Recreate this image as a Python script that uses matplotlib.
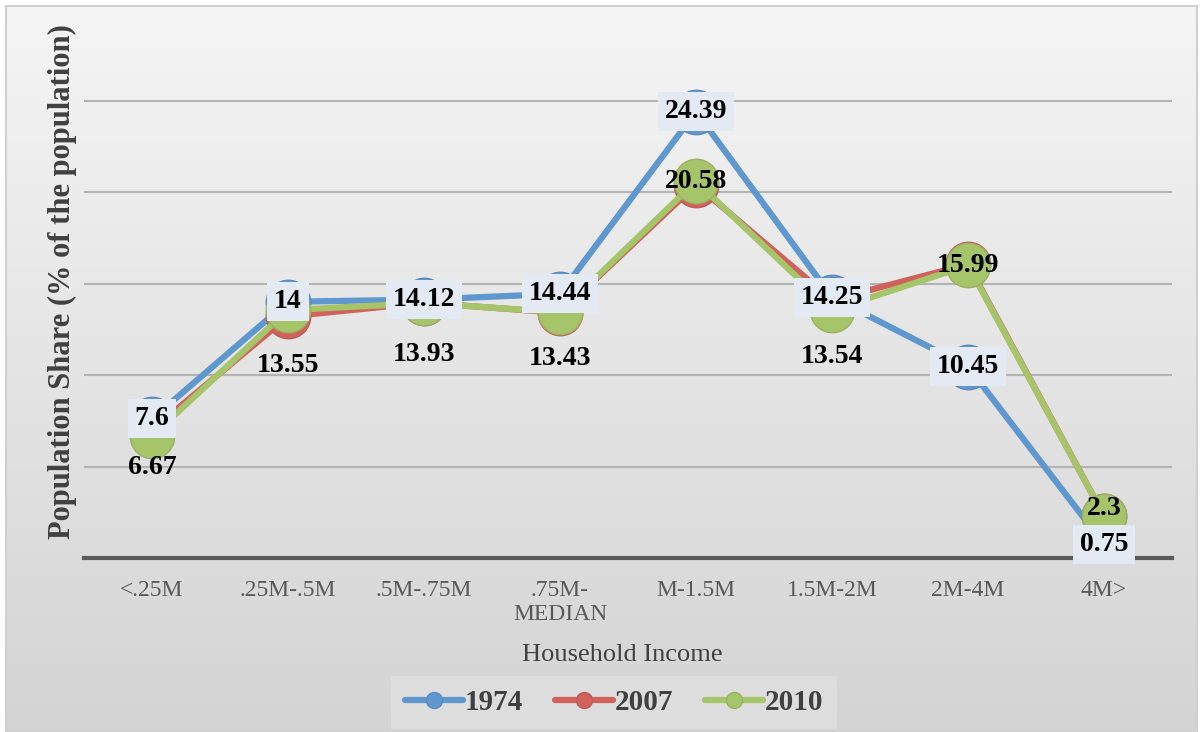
import numpy as np
import matplotlib
matplotlib.use("Agg")
import matplotlib.pyplot as plt

# --- Data ---
categories = ["<.25M", ".25M-.5M", ".5M-.75M", ".75M-\nMEDIAN", "M-1.5M", "1.5M-2M", "2M-4M", "4M>"]
share_1974 = [7.6, 14, 14.12, 14.44, 24.39, 14.25, 10.45, 0.75]
share_2007 = [7.0, 13.2, 13.95, 13.4, 20.4, 14.1, 16.05, 2.3]
share_2010 = [6.67, 13.55, 13.93, 13.43, 20.58, 13.54, 15.99, 2.3]

# --- Style ---
c_1974 = "#5f97cf"
c_2007 = "#d0625c"
c_2010 = "#a6c46a"
serif = "Liberation Serif"
label_dy_2010 = [-23, -40, -37, -33, 0, -33, 0, 5]  # label offsets in points

plt.rcParams["font.family"] = serif

fig = plt.figure(figsize=(12.02, 7.32), dpi=100)

# background gradient panel
bg = fig.add_axes([6 / 1202, 0, 1191 / 1202, 726 / 732], zorder=-5)
grad = np.linspace(0, 1, 256).reshape(-1, 1)
bg.imshow(grad, aspect="auto", cmap=matplotlib.colors.LinearSegmentedColormap.from_list(
    "g", ["#f5f5f5", "#d4d4d4"]), extent=[0, 1, 0, 1], origin="upper")
bg.set_xticks([])
bg.set_yticks([])
for s in bg.spines.values():
    s.set_color("#d0d0d0")
    s.set_linewidth(1.5)

ax = fig.add_axes([84 / 1202, 174 / 732, 1088 / 1202, 549 / 732])
ax.patch.set_alpha(0)
x = np.arange(len(categories))

ax.set_xlim(-0.5, len(categories) - 0.5)
ax.set_ylim(0, 30)
ax.set_yticks([5, 10, 15, 20, 25])
ax.set_yticklabels([])
ax.tick_params(axis="y", length=0)
ax.tick_params(axis="x", length=0, pad=16, labelsize=17, labelcolor="#595959")
ax.set_xticks(x)
ax.set_xticklabels(categories, linespacing=1.15)
ax.grid(axis="y", color="#b3b3b3", linewidth=1.5, zorder=0)
for side in ["top", "right", "left"]:
    ax.spines[side].set_visible(False)
ax.spines["bottom"].set_color("#5a5a5a")
ax.spines["bottom"].set_linewidth(3)

kw = dict(linewidth=4.5, marker="o", markersize=32, solid_capstyle="round")
ax.plot(x, share_1974, color=c_1974, markeredgecolor="#5a8ac0", label="1974", zorder=3, **kw)
ax.plot(x, share_2007, color=c_2007, markeredgecolor="#c05a55", label="2007", zorder=4, **kw)
ax.plot(x, share_2010, color=c_2010, markeredgecolor="#9cb064", label="2010", zorder=5, **kw)

for xi, v, dy in zip(x, share_2010, label_dy_2010):
    ax.annotate(f"{v:g}", (xi, v), xytext=(0, dy), textcoords="offset points",
                ha="center", va="center", fontsize=20, fontweight="bold",
                color="black", zorder=6)

for xi, v in zip(x, share_1974):
    ax.annotate(f"{v:g}", (xi, v), ha="center", va="center", fontsize=20,
                fontweight="bold", color="black", zorder=7,
                bbox=dict(boxstyle="square,pad=0.25", facecolor="#e3eaf3", edgecolor="none"))

fig.text(62 / 1202, 1 - 282 / 732, "Population Share (% of the population)", rotation=90,
         ha="center", va="center", fontsize=22, fontweight="bold", color="#404040")
fig.text(622 / 1202, 1 - 655 / 732, "Household Income", ha="center", va="center",
         fontsize=19, color="#404040")

leg = ax.legend(loc="upper center", bbox_to_anchor=(614 / 1202, 1 - 676 / 732),
                bbox_transform=fig.transFigure, borderaxespad=0, ncol=3,
                prop=dict(family=serif, weight="bold", size=21), frameon=True,
                fancybox=False, handlelength=2.0, handletextpad=0.05, columnspacing=1.1,
                markerscale=0.36, borderpad=0.45)
leg.get_frame().set_facecolor("#e0e0e0")
leg.get_frame().set_edgecolor("none")
for t in leg.get_texts():
    t.set_color("#404040")

fig.savefig("out.png", dpi=100)
